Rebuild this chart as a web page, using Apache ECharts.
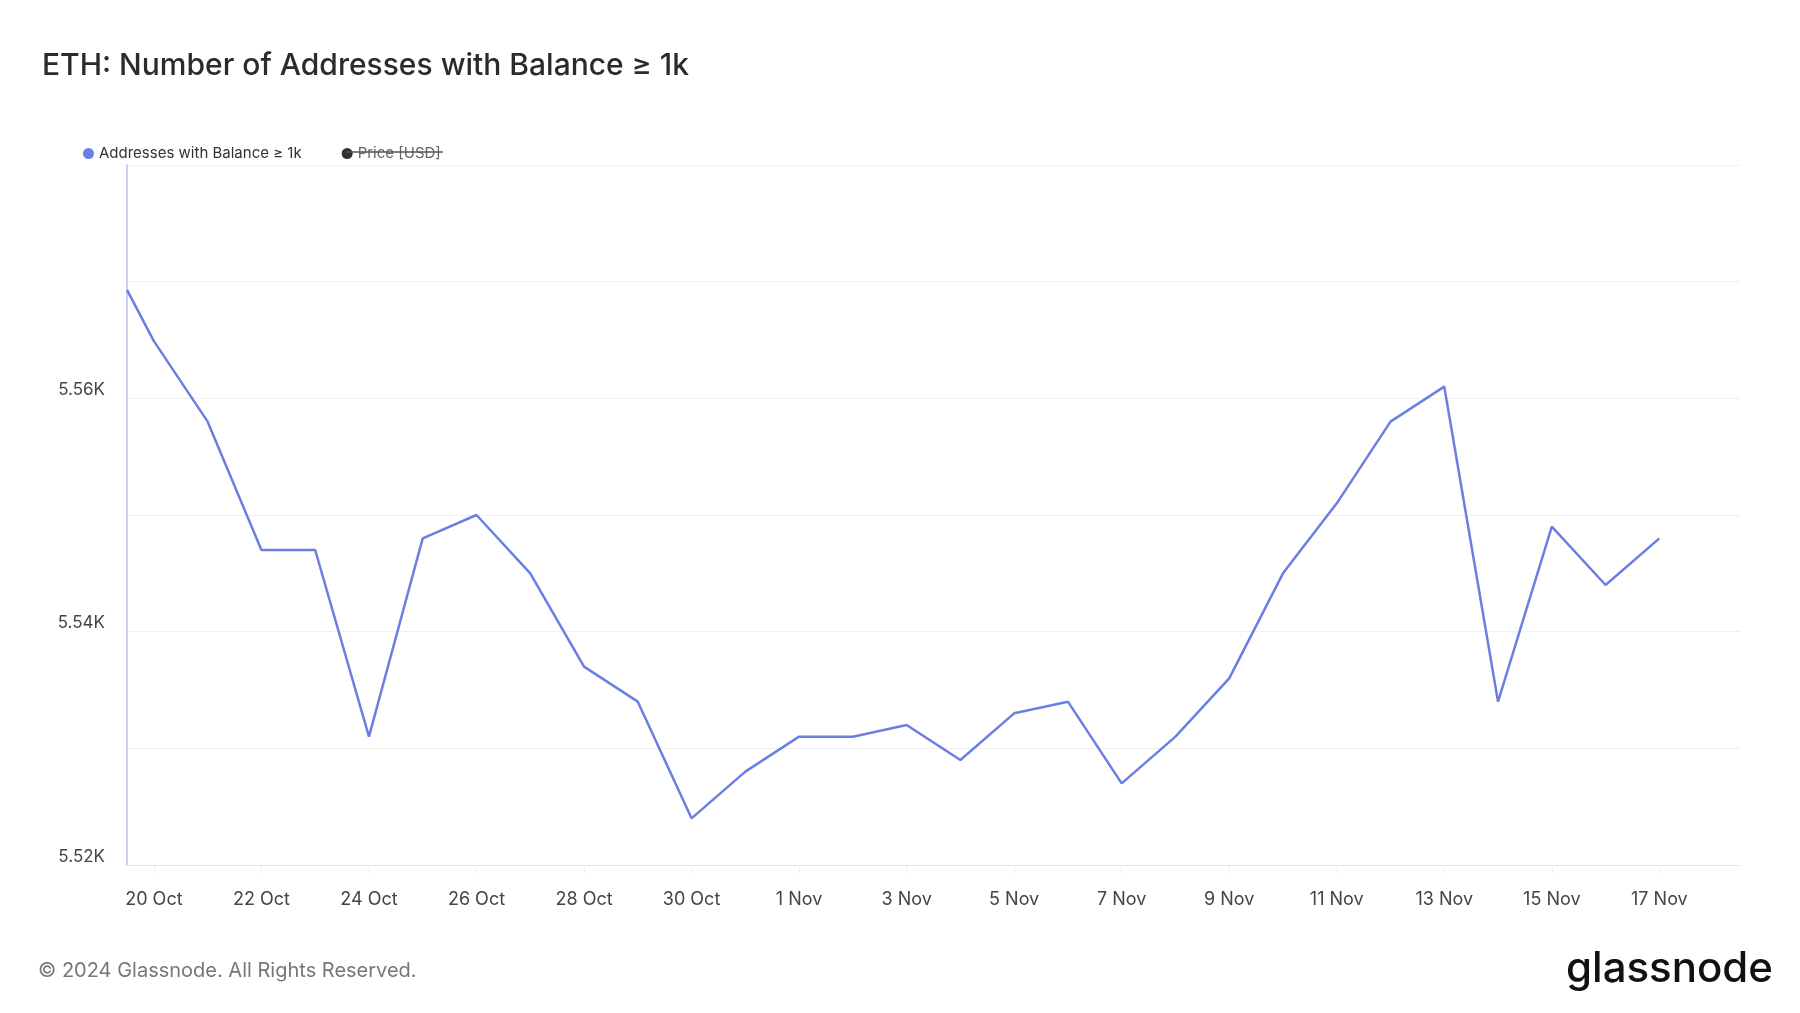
<!DOCTYPE html>
<html><head><meta charset="utf-8">
<script src="https://cdn.jsdelivr.net/npm/echarts@6/dist/echarts.min.js"></script>
<style>html,body{margin:0;padding:0;background:#fff}#c{width:1800px;height:1013px}</style>
</head><body><div id="c"></div>
<script>
// x: day offset from 20 Oct 2024
const dayOffsets = [-0.5,0,1,2,3,4,5,6,7,8,9,10,11,12,13,14,15,16,17,18,19,20,21,22,23,24,25,26,27,28];
const addresses = [5569.3,5564.9,5558,5547,5547,5531,5548,5550,5545,5537,5534,5524,5528,5531,5531,5532,5529,5533,5534,5527,5531,5536,5545,5551,5558,5561,5534,5549,5544,5548];
const tickOffsets = [0,2,4,6,8,10,12,14,16,18,20,22,24,26,28];
const tickLabels = ['20 Oct','22 Oct','24 Oct','26 Oct','28 Oct','30 Oct','1 Nov','3 Nov','5 Nov','7 Nov','9 Nov','11 Nov','13 Nov','15 Nov','17 Nov'];
const yLabels = {5520:'5.52K',5540:'5.54K',5560:'5.56K'};

const chart = echarts.init(document.getElementById('c'));
const F = 'Inter, "Noto Sans", sans-serif';
chart.setOption({
  backgroundColor:'#fff',
  animation:false,
  textStyle:{fontFamily:F},
  title:[{text:'ETH: Number of Addresses with Balance ≥ 1k',left:37,top:46,textStyle:{fontSize:30,fontWeight:500,color:'#2b2b2b',fontFamily:F}}],
  graphic:[
    {type:'text',left:38,top:961,style:{text:'© 2024 Glassnode. All Rights Reserved.',fontSize:20,fill:'#777',fontFamily:F}},
    {type:'text',right:27,top:948,style:{text:'glassnode',fontSize:42,fontWeight:500,fill:'#111',fontFamily:F}},
    {type:'line',shape:{x1:346,y1:152,x2:443,y2:152},style:{stroke:'#555',lineWidth:1.3},z:100}
  ],
  legend:{left:78,top:141,itemWidth:11,itemHeight:11,itemGap:40,icon:'circle',
    textStyle:{fontSize:15,color:'#333'},
    data:[{name:'Addresses with Balance ≥ 1k'},{name:'Price [USD]',textStyle:{color:'#666'}}]},
  grid:{left:127,right:60,top:165,bottom:148},
  xAxis:{type:'value',min:-0.5,max:29.5,
    axisLine:{show:true,onZero:false,lineStyle:{color:'#e6e6e6'}},
    axisTick:{show:true,customValues:tickOffsets,length:8,lineStyle:{color:'#eee'}},
    axisLabel:{customValues:tickOffsets,fontSize:18,color:'#444',margin:26,
      formatter:v=>tickLabels[tickOffsets.indexOf(Math.round(v))]||''},
    splitLine:{show:false}},
  yAxis:{type:'value',min:5520,max:5580,interval:10,
    axisLine:{show:true,onZero:false,lineStyle:{color:'#b4bff2',width:1.5}},
    axisTick:{show:false},
    axisLabel:{fontSize:17,color:'#444',margin:22,verticalAlign:'bottom',formatter:v=>yLabels[v]||''},
    splitLine:{show:true,lineStyle:{color:'#f0f0f0'}}},
  series:[
    {name:'Addresses with Balance ≥ 1k',type:'line',showSymbol:false,color:'#6b7fe3',
      lineStyle:{width:2.5,color:'#6b7fe3'},
      data:dayOffsets.map((d,i)=>[d,addresses[i]])},
    {name:'Price [USD]',type:'line',color:'#333',data:[]}
  ]
});
</script></body></html>
